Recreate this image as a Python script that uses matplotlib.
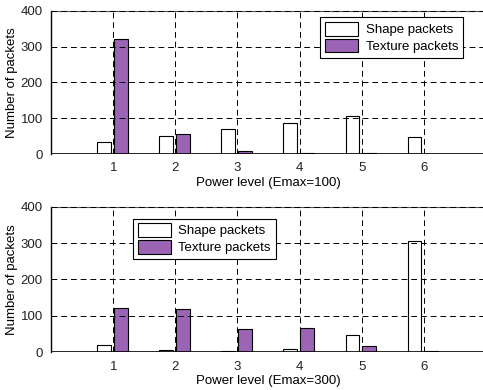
import numpy as np
import matplotlib.pyplot as plt

plt.rcParams['font.family'] = ['Liberation Sans', 'DejaVu Sans']
plt.rcParams['font.size'] = 9.5

levels = [1, 2, 3, 4, 5, 6]
shape_100 = [34, 50, 71, 87, 106, 48]
texture_100 = [322, 55, 8, 3, 3, 1]
shape_300 = [19, 5, 3, 8, 46, 307]
texture_300 = [121, 118, 63, 66, 16, 3]

purple = '#9b64b4'

fig = plt.figure(figsize=(4.83, 3.9), dpi=100)
ax1 = fig.add_axes([0.106, 0.605, 0.90, 0.367])
ax2 = fig.add_axes([0.106, 0.097, 0.90, 0.373])

panels = [
    (ax1, shape_100, texture_100, 'Power level (Emax=100)', 'upper right', (0.947, 0.955)),
    (ax2, shape_300, texture_300, 'Power level (Emax=300)', 'upper left', (0.188, 0.918)),
]

x = np.array(levels)
for ax, shape, texture, xlabel, loc, anchor in panels:
    ax.bar(x - 0.15, shape, width=0.22, color='white', edgecolor='black',
           linewidth=0.8, label='Shape packets', zorder=2)
    ax.bar(x + 0.12, texture, width=0.22, color=purple, edgecolor='black',
           linewidth=0.8, label='Texture packets', zorder=2)
    ax.axhline(0, color='black', linewidth=1.2, zorder=3)
    ax.set_xlim(0, 7)
    ax.set_ylim(0, 400)
    ax.set_xticks(levels)
    ax.set_yticks([0, 100, 200, 300, 400])
    ax.tick_params(length=0, pad=6, colors='#222222')
    ax.grid(True, color='black', linestyle=(0, (6, 4)), linewidth=0.7, zorder=4)
    ax.set_axisbelow(False)
    for s in ['bottom', 'right']:
        ax.spines[s].set_visible(False)
    ax.spines['left'].set_linewidth(1.0)
    ax.spines['top'].set_color('#555555')
    ax.set_xlabel(xlabel, labelpad=2)
    ax.set_ylabel('Number of packets', labelpad=2)
    leg = ax.legend(loc=loc, bbox_to_anchor=anchor, fancybox=False,
                    framealpha=1, edgecolor='black', borderpad=0.35,
                    handlelength=2.5, handleheight=1.2, labelspacing=0.2,
                    handletextpad=0.6, borderaxespad=0)
    leg.get_frame().set_linewidth(0.8)
    leg.set_zorder(5)

fig.savefig('out.png', dpi=100)
